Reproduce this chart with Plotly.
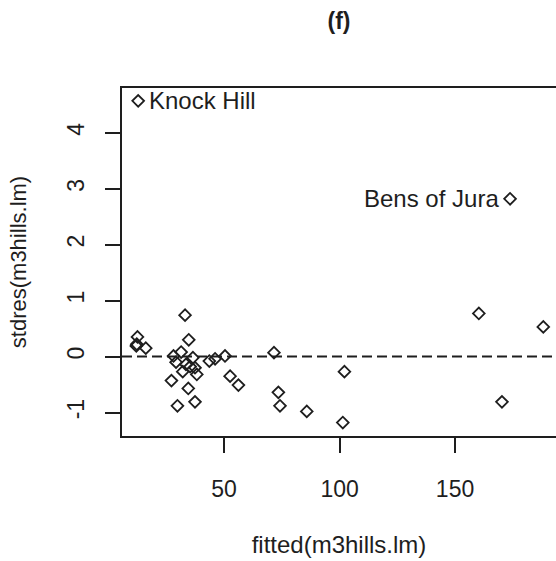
import plotly.graph_objects as go

# Fitted values and standardized residuals from m3hills.lm
fitted = [12.8, 173.8,
          33.1, 12.5, 12.2, 12.0, 16.1, 34.7, 28.1, 31.4, 36.5, 29.2, 33.5,
          35.3, 37.4, 32.1, 38.2, 27.2, 34.5, 29.8, 37.4, 43.6, 46.1, 50.4,
          52.6, 56.2, 71.6, 73.5, 74.2,
          85.8, 102.1, 101.4, 160.3, 170.3, 188.2]
stdres = [4.57, 2.82,
          0.74, 0.35, 0.22, 0.19, 0.15, 0.30, 0.01, 0.08, -0.02, -0.10, -0.14,
          -0.18, -0.20, -0.27, -0.32, -0.43, -0.57, -0.88, -0.81, -0.08, -0.04, 0.01,
          -0.35, -0.51, 0.07, -0.64, -0.88,
          -0.98, -0.27, -1.18, 0.77, -0.81, 0.53]

# Labelled races: (name, index into the arrays, side of the point)
labelled = [("Knock Hill", 0, "right"), ("Bens of Jura", 1, "left")]

x_ticks = [50, 100, 150]
y_ticks = [-1, 0, 1, 2, 3, 4]

ink = "#1e1e1e"
font = "Liberation Sans, Arial, sans-serif"

fig = go.Figure()
fig.add_trace(go.Scatter(
    x=fitted, y=stdres, mode="markers",
    marker=dict(symbol="diamond-open", size=9, color=ink, line=dict(width=1.8, color=ink)),
    showlegend=False, hoverinfo="x+y",
))

# Reference line at zero
fig.add_hline(y=0, line=dict(color=ink, width=2, dash="10px,5px"))

for name, i, side in labelled:
    fig.add_annotation(
        x=fitted[i], y=stdres[i], text=name, showarrow=False,
        xanchor="left" if side == "right" else "right", yanchor="middle",
        xshift=9 if side == "right" else -9,
        font=dict(family=font, size=24, color=ink),
    )

fig.update_layout(
    width=556, height=561,
    margin=dict(l=122, r=0, t=88, b=125),
    paper_bgcolor="white", plot_bgcolor="white",
    title=dict(text="<b>(f)</b>", x=0.5, xref="paper", xanchor="center",
               y=0.962, yanchor="middle",
               font=dict(family=font, size=23, color=ink)),
)
fig.update_xaxes(
    range=[5.8, 193.7], tickvals=x_ticks, ticktext=[str(v) for v in x_ticks],
    showgrid=False, zeroline=False,
    showline=True, linecolor=ink, linewidth=2, mirror=True,
    ticks="outside", ticklen=15, tickwidth=2, tickcolor=ink,
    ticklabelstandoff=16,
    tickfont=dict(family=font, size=23, color=ink),
    title=dict(text="fitted(m3hills.lm)", standoff=36, font=dict(family=font, size=24, color=ink)),
)
fig.update_yaxes(
    range=[-1.42, 4.8], tickvals=y_ticks, ticktext=[str(v) for v in y_ticks],
    showgrid=False, zeroline=False,
    showline=True, linecolor=ink, linewidth=2, mirror=False,
    ticks="outside", ticklen=15, tickwidth=2, tickcolor=ink, tickangle=-90,
    ticklabelstandoff=12,
    tickfont=dict(family=font, size=23, color=ink),
    title=dict(text="stdres(m3hills.lm)", standoff=30, font=dict(family=font, size=22, color=ink)),
)

fig.write_html("out.html")
